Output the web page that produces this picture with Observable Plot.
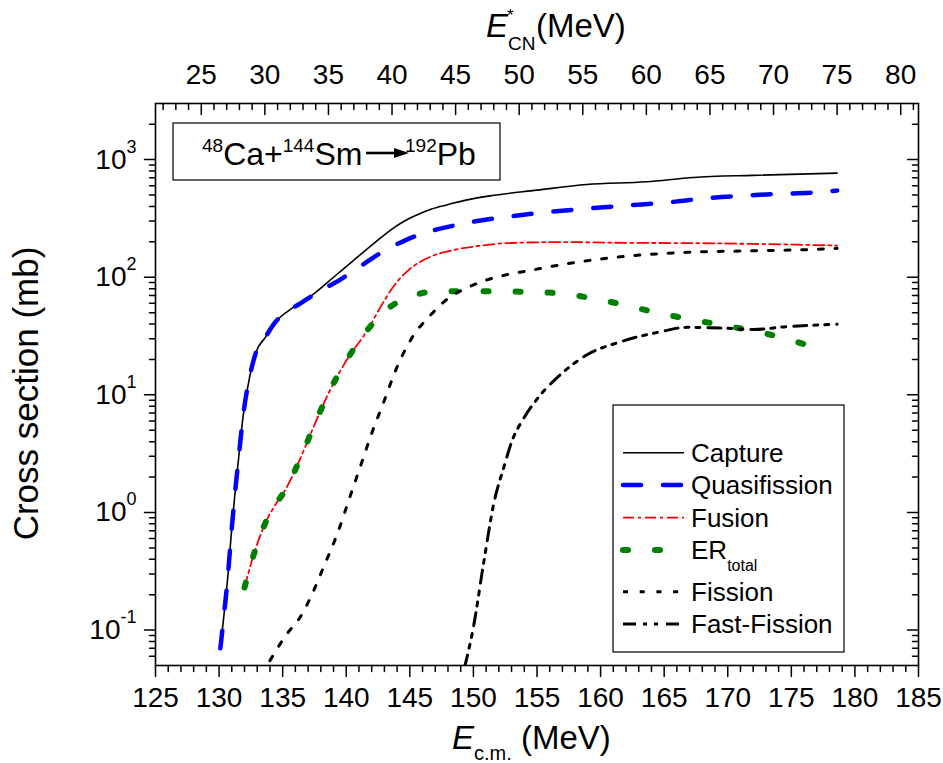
<!DOCTYPE html>
<html><head><meta charset="utf-8">
<script src="https://cdn.jsdelivr.net/npm/d3@7"></script>
<script src="https://cdn.jsdelivr.net/npm/@observablehq/plot@0.6"></script>
<style>
body{margin:0;background:#fff;}
#chart{width:943px;height:763px;}
</style></head><body><div id="chart"></div>
<script>
const seriesNames = ["Capture","Quasifission","Fusion","ER","Fission","Fast-Fission"];
const captureE = [130.1,130.37,130.68,130.95,131.23,131.55,131.89,132.42,132.9,133.65,134.3,135.9,137.5,139.0,140.6,142.2,143.7,144.8,145.6,146.7,147.9,149.5,151.3,155.0,158.9,163.6,167.3,172.0,178.6];
const captureS = [0.07,0.13,0.28,0.64,1.38,3.0,6.6,14.5,23,31,40,56,73,100,140,195,262,310,340,380,412,455,492,550,615,648,705,735,767];
const quasiE = [130.1,130.37,130.68,130.95,131.23,131.55,131.89,132.42,132.9,133.65,134.3,135.0,136.4,137.9,139.5,141.3,143.1,144.6,146.1,148.0,150.0,152.5,155.0,158.5,162.1,165.0,168.4,173.0,177.8,178.6];
const quasiS = [0.07,0.13,0.28,0.64,1.38,3.0,6.6,14.5,23,31,40,48,60,76,95,128,171,205,237,268,297,325,351,380,408,430,470,505,535,545];
const fusionE = [132.0,132.7,133.65,134.4,135.2,136.4,137.45,138.6,140.0,141.7,142.7,143.7,144.7,145.8,147.0,148.5,150.5,152.6,155.0,157.1,162.0,166.8,172.0,178.6];
const fusionS = [0.23,0.43,0.82,1.15,1.55,2.9,5.4,10.3,19.5,36,56,83,110,135,155,171,185,195,198,199,196,195,192,186];
const erE = [132.0,132.7,133.65,134.4,135.2,136.4,137.45,138.6,140.0,141.7,142.9,144.1,145.3,146.6,149.2,151.9,154.3,156.8,159.4,161.9,164.4,167.0,169.5,172.0,174.5,177.6];
const erS = [0.23,0.43,0.82,1.15,1.55,2.9,5.4,10.3,19.5,36,50,62,70,75,76,76,75,73,66,58,50,44,39.3,35,30.2,23.5];
const fissionE = [134.0,134.4,135.35,136.4,137.2,138.2,139.3,140.2,141.1,142.0,142.95,144.0,145.4,146.5,147.7,150.0,152.6,154.2,157.9,161.8,166.8,172.3,177.7,178.6];
const fissionS = [0.055,0.065,0.093,0.13,0.19,0.34,0.66,1.27,2.44,4.7,8.7,17.3,33.4,46,62,86,105,113,133,150,163,168,174,176];
const fastE = [149.3,150.0,150.8,151.6,152.4,153.05,153.95,155.0,156.8,158.9,161.6,164.7,166.8,169.9,172.0,174.65,178.6];
const fastS = [0.048,0.106,0.37,1.19,2.44,4.1,6.3,9.2,14.7,21.8,28.3,34.4,37.5,36.8,36,38,39.8];

const xMajorTicks = [125,130,135,140,145,150,155,160,165,170,175,180,185];
const topMajorTicks = [25,30,35,40,45,50,55,60,65,70,75,80];   // E*_CN (MeV)
const yMajorTicks = [0.1,1,10,100,1000];
const Qshift = 103.6; // E*_CN = E_cm - Qshift

const W = 943, H = 763, ML = 155, MR = 25, MT = 103, MB = 98;
const FW = W - ML - MR, FH = H - MT - MB;
const FONT = "'Liberation Sans', Arial, Helvetica, sans-serif";
const xDom = [125, 185], yDom = [0.05, 3000];
const pxPerDecade = FH / Math.log10(yDom[1] / yDom[0]);
const pxPerMeV = FW / (xDom[1] - xDom[0]);
const yDown = (v, px) => v * Math.pow(10, -px / pxPerDecade);
const xLeftOf = (v, px) => v - px / pxPerMeV;

const xMinorTicks = d3.range(125, 186, 1).filter(v => !xMajorTicks.includes(v));
const topMinorTicks = d3.range(22, 82, 1).filter(v => !topMajorTicks.includes(v)).map(v => v + Qshift).filter(v => v >= 125 && v <= 185);
const yMinorTicks = [];
for (let k = -2; k <= 3; k++) for (let m = 2; m <= 9; m++) { const v = m * Math.pow(10, k); if (v > 0.05 && v < 3000) yMinorTicks.push(v); }

// tick segments (two points each) in data coordinates
const tickSegs = [];
let tid = 0;
const vseg = (v, y0, len) => { tid++; tickSegs.push({id: tid, x: v, y: y0}, {id: tid, x: v, y: yDown(y0, len)}); };
const hseg = (v, x0, len) => { tid++; tickSegs.push({id: tid, x: xLeftOf(x0, len), y: v}, {id: tid, x: x0, y: v}); };
xMinorTicks.forEach(v => vseg(v, yDom[0], 6));
xMajorTicks.forEach(v => vseg(v, yDom[0], 11));
topMinorTicks.forEach(v => vseg(v, yDom[1], 6));
topMajorTicks.forEach(v => vseg(v + Qshift, yDom[1], 11));
yMinorTicks.forEach(v => { hseg(v, xDom[0], 6); hseg(v, xDom[1], 6); });
yMajorTicks.forEach(v => { hseg(v, xDom[0], 11); hseg(v, xDom[1], 11); });

const rows = (E, S) => E.map((e, i) => ({e, s: S[i]}));
const styles = {
  "Capture":      {stroke: "black",   strokeWidth: 1.6},
  "Quasifission": {stroke: "#0000ff", strokeWidth: 4.5, strokeDasharray: "18,22", strokeLinecap: "round"},
  "Fusion":       {stroke: "#ff0000", strokeWidth: 1.8, strokeDasharray: "11,4,3,4"},
  "ER":           {stroke: "#008000", strokeWidth: 6,   strokeDasharray: "5,27", strokeLinecap: "round"},
  "Fission":      {stroke: "black",   strokeWidth: 3,   strokeDasharray: "5,11.7"},
  "Fast-Fission": {stroke: "black",   strokeWidth: 3,   strokeDasharray: "13,7,4,7,4,8"}
};
const dataBy = {
  "Capture": rows(captureE, captureS), "Quasifission": rows(quasiE, quasiS),
  "Fusion": rows(fusionE, fusionS), "ER": rows(erE, erS),
  "Fission": rows(fissionE, fissionS), "Fast-Fission": rows(fastE, fastS)
};

const svg = Plot.plot({
  width: W, height: H,
  marginLeft: ML, marginRight: MR, marginTop: MT, marginBottom: MB,
  x: {domain: xDom},
  y: {type: "log", domain: yDom},
  style: {fontFamily: FONT, fontSize: "28px", color: "black", background: "white", overflow: "visible"},
  marks: [
    ...seriesNames.map(n => Plot.line(dataBy[n], {x: "e", y: "s", curve: "monotone-x", clip: true, ...styles[n]})),
    Plot.frame({stroke: "black", strokeWidth: 1.6}),
    Plot.line(tickSegs, {x: "x", y: "y", z: "id", stroke: "black", strokeWidth: 1.5}),
    Plot.axisX({anchor: "bottom", ticks: xMajorTicks, tickSize: 0, tickPadding: 22, tickFormat: d => String(d), label: null}),
    Plot.axisY({anchor: "left", ticks: yMajorTicks, tickSize: 0, tickPadding: 19, tickFormat: d => "10^" + Math.round(Math.log10(d)), label: null}),
    Plot.axisX({anchor: "top", ticks: topMajorTicks.map(v => v + Qshift), tickSize: 0, tickPadding: 20, tickFormat: d => String(Math.round(d - Qshift)), label: null})
  ]
});

document.getElementById("chart").appendChild(svg);
const S = d3.select(svg);

// superscript exponents on y tick labels
S.selectAll("text").each(function () {
  const t = this.textContent;
  const m = /^10\^(-?\d+)$/.exec(t);
  if (!m) return;
  const el = d3.select(this);
  el.text(null);
  el.append("tspan").text("10");
  el.append("tspan").attr("dy", "-16").attr("font-size", "18px").text(m[1]);
});

const g = S.append("g").attr("font-family", FONT).attr("fill", "black").attr("text-anchor", "start");

// reaction label box
g.append("rect").attr("x", 173).attr("y", 123).attr("width", 327).attr("height", 57)
  .attr("fill", "white").attr("stroke", "black").attr("stroke-width", 1.2);
const r1 = g.append("text").attr("x", 202).attr("y", 165).attr("font-size", "32px");
r1.append("tspan").attr("font-size", "19px").attr("dy", -13).text("48");
r1.append("tspan").attr("dy", 13).text("Ca+");
r1.append("tspan").attr("font-size", "19px").attr("dy", -13).text("144");
r1.append("tspan").attr("dy", 13).text("Sm");
g.append("line").attr("x1", 366).attr("x2", 397).attr("y1", 153).attr("y2", 153).attr("stroke", "black").attr("stroke-width", 2.6);
g.append("path").attr("d", "M394,148 L409,153 L394,158 Z").attr("fill", "black");
const r2 = g.append("text").attr("x", 405).attr("y", 165).attr("font-size", "32px");
r2.append("tspan").attr("font-size", "19px").attr("dy", -13).text("192");
r2.append("tspan").attr("dy", 13).text("Pb");

// legend
g.append("rect").attr("x", 613).attr("y", 405).attr("width", 231).attr("height", 247)
  .attr("fill", "white").attr("stroke", "black").attr("stroke-width", 1.2);
const legendRows = [
  {n: "Capture", ly: 452.7, by: 461.7}, {n: "Quasifission", ly: 485, by: 494},
  {n: "Fusion", ly: 517.7, by: 526.7}, {n: "ER", ly: 550, by: 559},
  {n: "Fission", ly: 591.7, by: 600.7}, {n: "Fast-Fission", ly: 624, by: 633}
];
legendRows.forEach(r => {
  const st = styles[r.n];
  g.append("line").attr("x1", 623).attr("x2", 684).attr("y1", r.ly).attr("y2", r.ly)
    .attr("stroke", st.stroke).attr("stroke-width", st.strokeWidth)
    .attr("stroke-dasharray", st.strokeDasharray || null)
    .attr("stroke-linecap", st.strokeLinecap || null);
  const t = g.append("text").attr("x", 691).attr("y", r.by).attr("font-size", "26px");
  if (r.n === "ER") {
    t.append("tspan").text("ER");
    t.append("tspan").attr("font-size", "16px").attr("dy", 12).text("total");
  } else t.text(r.n);
});

// bottom axis title
const bt = g.append("text").attr("x", 452).attr("y", 749).attr("font-size", "33px");
bt.append("tspan").attr("font-style", "italic").text("E");
bt.append("tspan").attr("font-size", "20px").attr("dy", 11).text("c.m.");
bt.append("tspan").attr("dy", -11).text(" (MeV)");

// top axis title
g.append("text").attr("x", 486).attr("y", 37).attr("font-size", "33px").attr("font-style", "italic").text("E");
g.append("text").attr("x", 507).attr("y", 21).attr("font-size", "17px").text("*");
g.append("text").attr("x", 508).attr("y", 50).attr("font-size", "19px").text("CN");
g.append("text").attr("x", 536).attr("y", 37).attr("font-size", "33px").text("(MeV)");

// y axis title
g.append("text").attr("transform", "translate(38,393.5) rotate(-90)").attr("text-anchor", "middle")
  .attr("font-size", "35px").text("Cross section (mb)");
</script>
</body></html>
